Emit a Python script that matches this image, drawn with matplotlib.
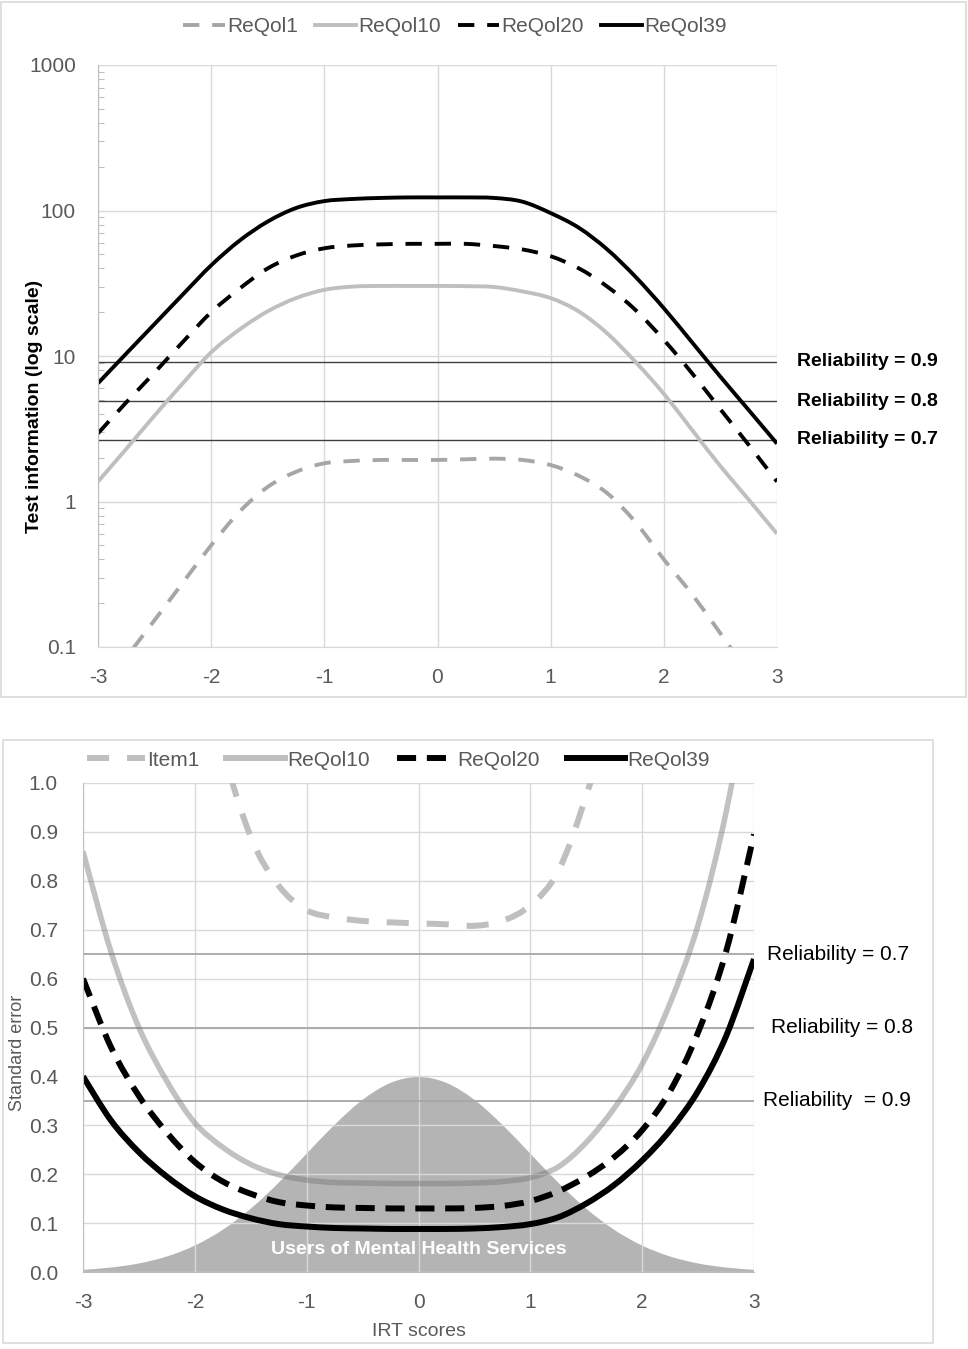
import matplotlib
matplotlib.use("Agg")
import matplotlib.pyplot as plt
import numpy as np
from matplotlib.lines import Line2D
from matplotlib.patches import PathPatch, Rectangle
from matplotlib.path import Path
from matplotlib.ticker import FixedLocator, LogLocator, NullFormatter
import matplotlib.transforms as mtransforms

plt.rcParams["font.family"] = ["Liberation Sans Narrow", "Liberation Sans", "DejaVu Sans"]

# ---- data: IRT score grid shared by every curve ----
theta = [-3, -2.75, -2.5, -2.25, -2, -1.75, -1.5, -1.25, -1, -0.75, -0.5, -0.25,
         0, 0.25, 0.5, 0.75, 1, 1.25, 1.5, 1.75, 2, 2.25, 2.5, 2.75, 3]

# top panel: test information (log scale)
info_reqol1 = [0.047, 0.085, 0.153, 0.277, 0.50, 0.85, 1.26, 1.60, 1.83, 1.90, 1.93, 1.93,
               1.93, 1.95, 1.97, 1.93, 1.78, 1.50, 1.14, 0.72, 0.40, 0.23, 0.124, 0.066, 0.035]
info_reqol10 = [1.37, 2.3, 3.9, 6.5, 10.6, 15.2, 20.3, 25, 28.5, 30, 30.3, 30.3,
                30.3, 30.2, 29.8, 27.8, 25, 20.2, 14.3, 9.1, 5.5, 3.1, 1.75, 1.03, 0.6]
info_reqol20 = [2.94, 4.8, 7.7, 12.5, 20, 29, 40, 49, 55, 57.5, 58.5, 59,
                59, 59, 57, 54, 48.5, 40, 30, 20.7, 12.9, 7.6, 4.3, 2.45, 1.37]
info_reqol39 = [6.5, 10.4, 16.6, 26.5, 42, 62, 84, 104, 116, 120, 122, 123,
                123, 123, 122, 115, 96, 76, 54, 35, 21.3, 12.4, 7.2, 4.25, 2.5]

info_ref_values = [9.1, 4.9, 2.65]
info_ref_labels = ["Reliability = 0.9", "Reliability = 0.8", "Reliability = 0.7"]

# bottom panel: standard error
se_item1 = [4.6, 3.4, 2.56, 1.9, 1.41, 1.08, 0.89, 0.79, 0.74, 0.725, 0.718, 0.715,
            0.713, 0.711, 0.708, 0.718, 0.75, 0.82, 0.975, 1.18, 1.58, 2.08, 2.84, 3.9, 5.3]
se_reqol10 = [0.86, 0.655, 0.50, 0.39, 0.305, 0.255, 0.22, 0.199, 0.188, 0.183, 0.182, 0.181,
              0.181, 0.181, 0.182, 0.185, 0.193, 0.215, 0.265, 0.335, 0.425, 0.55, 0.71, 0.94, 1.25]
se_reqol20 = [0.60, 0.46, 0.36, 0.285, 0.225, 0.185, 0.16, 0.143, 0.136, 0.132, 0.131, 0.13,
              0.13, 0.13, 0.131, 0.135, 0.145, 0.165, 0.195, 0.235, 0.29, 0.37, 0.49, 0.655, 0.895]
se_reqol39 = [0.40, 0.31, 0.245, 0.195, 0.155, 0.128, 0.11, 0.098, 0.093, 0.09, 0.089, 0.088,
              0.088, 0.088, 0.089, 0.092, 0.098, 0.112, 0.14, 0.178, 0.228, 0.29, 0.37, 0.482, 0.64]

# density of users of mental health services
density = [0.0044, 0.0091, 0.0175, 0.0317, 0.054, 0.0863, 0.1295, 0.1826, 0.242, 0.3011,
           0.3521, 0.3867, 0.3989, 0.3867, 0.3521, 0.3011, 0.242, 0.1826, 0.1295, 0.0863,
           0.054, 0.0317, 0.0175, 0.0091, 0.0044]

se_ref_values = [0.65, 0.50, 0.35]
se_ref_labels = ["Reliability = 0.7", "Reliability = 0.8", "Reliability  = 0.9"]

x_ticks = [-3, -2, -1, 0, 1, 2, 3]

TICK_COLOR = "#595959"
GRID_COLOR = "#d9d9d9"


def smooth_path(xs, ys, log=False, close_to=None):
    """Excel-style smoothed line: Catmull-Rom segments drawn as cubic Beziers."""
    x = np.asarray(xs, float)
    y = np.log10(ys) if log else np.asarray(ys, float)
    pts = np.column_stack((x, y))
    ext = np.vstack((pts[0], pts, pts[-1]))
    verts = [pts[0]]
    codes = [Path.MOVETO]
    for i in range(1, len(ext) - 2):
        p0, p1, p2, p3 = ext[i - 1], ext[i], ext[i + 1], ext[i + 2]
        verts += [p1 + (p2 - p0) / 6, p2 - (p3 - p1) / 6, p2]
        codes += [Path.CURVE4] * 3
    verts = np.array(verts)
    if log:
        verts[:, 1] = 10 ** verts[:, 1]
    if close_to is not None:
        verts = np.vstack((verts, [[x[-1], close_to], [x[0], close_to], [x[0], close_to]]))
        codes += [Path.LINETO, Path.LINETO, Path.CLOSEPOLY]
    return Path(verts, codes)


def add_curve(ax, xs, ys, log=False, **kw):
    patch = PathPatch(smooth_path(xs, ys, log=log), fill=False, capstyle="butt", **kw)
    ax.add_patch(patch)
    return patch


W, H = 968, 1349
fig = plt.figure(figsize=(W / 100, H / 100), dpi=100)
fig.patch.set_facecolor("white")

# panel frames
fig.add_artist(Rectangle((1 / W, 1 - 697 / H), 965 / W, 695 / H, transform=fig.transFigure,
                         fill=False, edgecolor="#d9d9d9", lw=1.2))
fig.add_artist(Rectangle((3 / W, 1 - 1343 / H), 930 / W, 603 / H, transform=fig.transFigure,
                         fill=False, edgecolor="#d9d9d9", lw=1.2))

# ---------------- top panel ----------------
ax1 = fig.add_axes([98 / W, 1 - 647 / H, 679 / W, 582 / H])
ax1.set_yscale("log")
ax1.set_xlim(-3, 3)
ax1.set_ylim(0.1, 1000)
ax1.set_xticks(x_ticks)
ax1.set_xticklabels([str(t) for t in x_ticks])
ax1.yaxis.set_major_locator(FixedLocator([0.1, 1, 10, 100, 1000]))
ax1.set_yticklabels(["0.1", "1", "10", "100", "1000"])
ax1.yaxis.set_minor_locator(LogLocator(base=10, subs=range(2, 10)))
ax1.yaxis.set_minor_formatter(NullFormatter())
ax1.grid(True, which="major", color=GRID_COLOR, lw=1.0)
ax1.set_axisbelow(True)
ax1.tick_params(axis="both", which="major", length=0, labelsize=15, labelcolor=TICK_COLOR)
ax1.tick_params(axis="x", pad=15)
ax1.tick_params(axis="y", pad=16)
ax1.tick_params(axis="y", which="minor", direction="in", length=4, color="#bfbfbf", width=0.8)
for side in ("top", "right"):
    ax1.spines[side].set_visible(False)
ax1.spines["left"].set_color("#bfbfbf")
ax1.spines["bottom"].set_color(GRID_COLOR)

for val in info_ref_values:
    ax1.axhline(val, color="#404040", lw=1.0, zorder=1.8)

top_styles = [
    (info_reqol1, "ReQol1", "#a6a6a6", (4.2, 3.3)),
    (info_reqol10, "ReQol10", "#bfbfbf", None),
    (info_reqol20, "ReQol20", "black", (4.2, 3.3)),
    (info_reqol39, "ReQol39", "black", None),
]
handles1 = []
for values, label, color, dashes in top_styles:
    ls = (0, dashes) if dashes else "-"
    add_curve(ax1, theta, values, log=True, edgecolor=color, lw=2.8, linestyle=ls, zorder=2)
    handles1.append(Line2D([], [], color=color, lw=2.8, linestyle=ls))

blend1 = mtransforms.blended_transform_factory(ax1.transAxes, ax1.transData)
for val, lab in zip(info_ref_values, info_ref_labels):
    ax1.text(1.03, val, lab, transform=blend1, ha="left", va="center",
             fontsize=14, fontweight="bold", color="black", clip_on=False)

fig.text(35 / W, 1 - 406 / H, "Test information (log scale)", rotation=90,
         ha="center", va="center", fontsize=14, fontweight="bold", color="black")

fig.legend(handles1, [s[1] for s in top_styles], loc="center",
           bbox_to_anchor=(455 / W, 1 - 27 / H), ncol=4, frameon=False, fontsize=15,
           labelcolor=TICK_COLOR, handlelength=2.0, handletextpad=0.1, columnspacing=0.8)

# ---------------- bottom panel ----------------
ax2 = fig.add_axes([83 / W, 1 - 1272 / H, 671 / W, 489 / H])
ax2.set_xlim(-3, 3)
ax2.set_ylim(0, 1.0)
ax2.set_xticks(x_ticks)
ax2.set_xticklabels([str(t) for t in x_ticks])
ax2.set_yticks([i / 10 for i in range(11)])
ax2.set_yticklabels([f"{i / 10:.1f}" for i in range(11)])
ax2.grid(True, color=GRID_COLOR, lw=1.0)
ax2.set_axisbelow("line")
ax2.tick_params(axis="both", length=0, labelsize=15, labelcolor=TICK_COLOR)
ax2.tick_params(axis="x", pad=15)
ax2.tick_params(axis="y", pad=18)
for side in ("top", "right"):
    ax2.spines[side].set_visible(False)
ax2.spines["left"].set_color("#bfbfbf")
ax2.spines["bottom"].set_color("#bfbfbf")

ax2.add_patch(PathPatch(smooth_path(theta, density, close_to=0.0), facecolor="#b4b4b4",
                        edgecolor="none", zorder=1))
ax2.text(0, 0.045, "Users of Mental Health Services", ha="center", va="center",
         fontsize=14, fontweight="bold", color="white", zorder=5)

for val in se_ref_values:
    ax2.axhline(val, color="#a6a6a6", lw=1.3, zorder=1.8)

bottom_styles = [
    (se_item1, "Item1", "#bfbfbf", 1.0, 4.3, (3.7, 3.0)),
    (se_reqol10, "ReQol10", "#777777", 0.45, 4.0, None),
    (se_reqol20, "ReQol20", "black", 1.0, 4.3, (3.2, 1.8)),
    (se_reqol39, "ReQol39", "black", 1.0, 4.3, None),
]
for values, label, color, alpha, lw, dashes in bottom_styles:
    ls = (0, dashes) if dashes else "-"
    add_curve(ax2, theta, values, edgecolor=color, alpha=alpha, lw=lw, linestyle=ls, zorder=2)

blend2 = mtransforms.blended_transform_factory(ax2.transAxes, ax2.transData)
for val, lab, xo in zip(se_ref_values, se_ref_labels, [1.019, 1.025, 1.013]):
    ax2.text(xo, val, lab, transform=blend2, ha="left", va="center",
             fontsize=15, color="black", clip_on=False)

ax2.set_xlabel("IRT scores", fontsize=14, color=TICK_COLOR, labelpad=8)
fig.text(18 / W, 1 - 1053 / H, "Standard error", rotation=90, ha="center", va="center",
         fontsize=13, color=TICK_COLOR)

handles2 = [
    Line2D([], [], color="#bfbfbf", lw=4.3, dashes=(3.7, 3.0)),
    Line2D([], [], color="#bfbfbf", lw=4.3),
    Line2D([], [], color="black", lw=4.3, dashes=(3.2, 1.8)),
    Line2D([], [], color="black", lw=4.3),
]
fig.legend(handles2, [s[1] for s in bottom_styles], loc="center",
           bbox_to_anchor=(398 / W, 1 - 760 / H), ncol=4, frameon=False, fontsize=15,
           labelcolor=TICK_COLOR, handlelength=2.8, handletextpad=0.1, columnspacing=1.3)

fig.savefig("out.png", dpi=100, facecolor="white")
